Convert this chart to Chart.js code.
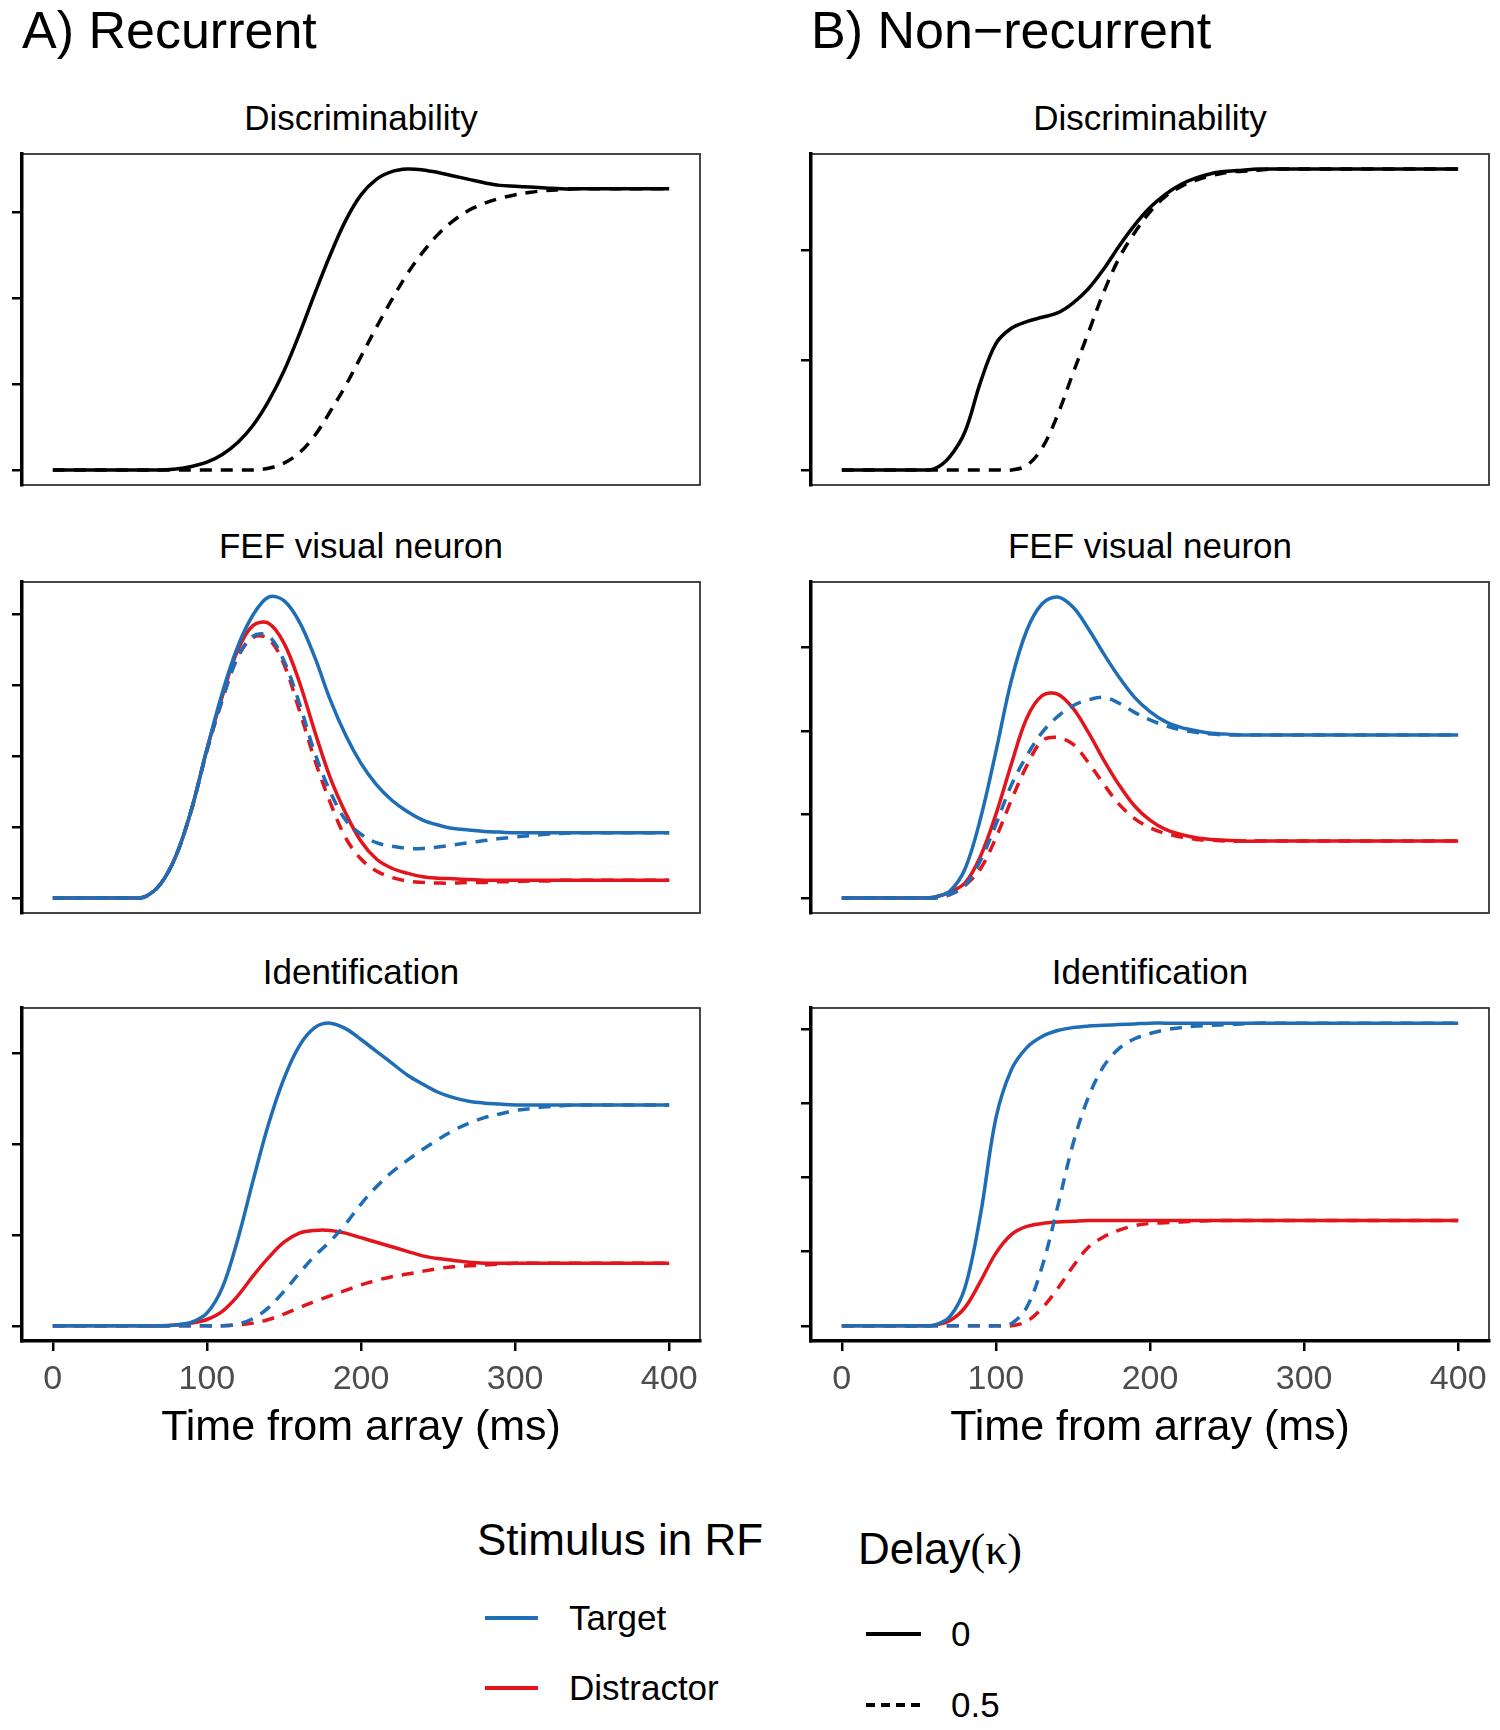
<!DOCTYPE html>
<html>
<head>
<meta charset="utf-8">
<script src="https://cdn.jsdelivr.net/npm/chart.js@4.4.1/dist/chart.umd.min.js"></script>
<style>
body { margin:0; background:#fff; width:1500px; height:1730px; position:relative; overflow:hidden;
       font-family:'Liberation Sans', Arial, sans-serif; }
.t { position:absolute; white-space:nowrap; line-height:1; color:#000; }
canvas { position:absolute; }
.key { position:absolute; height:4px; }
</style>
</head>
<body>

<div class="t" style="left:22px;top:4px;font-size:52px">A) Recurrent</div>
<div class="t" style="left:811px;top:4px;font-size:52px">B) Non&#8722;recurrent</div>

<div class="t" style="left:477px;top:1518px;font-size:44px">Stimulus in RF</div>
<div class="key" style="left:485px;top:1616px;width:53px;background:#1F6EB5"></div>
<div class="t" style="left:569px;top:1600px;font-size:35px">Target</div>
<div class="key" style="left:485px;top:1686px;width:53px;background:#E3141B"></div>
<div class="t" style="left:569px;top:1670px;font-size:35px">Distractor</div>

<div class="t" style="left:858px;top:1527px;font-size:44px">Delay<span style="font-family:'Liberation Serif',serif">(&#954;)</span></div>
<div class="key" style="left:866px;top:1632px;width:55px;background:#000"></div>
<div class="t" style="left:951px;top:1616px;font-size:35px">0</div>
<div class="key" style="left:866px;top:1703px;width:55px;background:repeating-linear-gradient(to right,#000 0 9px,transparent 9px 15px)"></div>
<div class="t" style="left:951px;top:1687px;font-size:35px">0.5</div>

<script>
// time axis (ms)
const TIME = [0,10,20,30,40,50,60,70,80,90,100,110,120,130,140,150,160,170,180,190,200,
              210,220,230,240,250,260,270,280,290,300,310,320,330,340,350,360,370,380,390,400];

// Discriminability, recurrent
const A1_K0 = [0,0,0,0,0,0,0,0,0.01,0.04,0.09,0.18,0.32,0.52,0.8,1.15,1.58,2.05,2.5,2.9,3.2,
               3.38,3.47,3.5,3.49,3.46,3.42,3.38,3.34,3.31,3.3,3.29,3.28,3.27,3.27,3.27,3.27,3.27,3.27,3.27,3.27];
const A1_K5 = [0,0,0,0,0,0,0,0,0,0,0,0,0,0,0.02,0.08,0.2,0.4,0.68,0.98,1.32,
               1.66,1.98,2.28,2.53,2.74,2.9,3.02,3.1,3.16,3.2,3.23,3.25,3.26,3.27,3.27,3.27,3.27,3.27,3.27,3.27];
// Discriminability, non-recurrent
const B1_K0 = [0,0,0,0,0,0,0.01,0.12,0.35,0.8,1.15,1.29,1.35,1.39,1.43,1.52,1.65,1.83,2.04,2.23,2.39,
               2.51,2.6,2.66,2.7,2.72,2.73,2.74,2.74,2.74,2.74,2.74,2.74,2.74,2.74,2.74,2.74,2.74,2.74,2.74,2.74];
const B1_K5 = [0,0,0,0,0,0,0,0,0,0,0,0,0.04,0.2,0.5,0.88,1.25,1.62,1.93,2.16,2.35,
               2.49,2.58,2.64,2.68,2.71,2.72,2.73,2.74,2.74,2.74,2.74,2.74,2.74,2.74,2.74,2.74,2.74,2.74,2.74,2.74];

// FEF visual neuron, recurrent
const A2_TGT_K0 = [0,0,0,0,0,0,0.02,0.2,0.6,1.25,2.1,2.9,3.55,4.0,4.25,4.2,3.9,3.4,2.8,2.3,1.9,
                   1.6,1.38,1.22,1.1,1.03,0.98,0.96,0.94,0.93,0.92,0.92,0.92,0.92,0.92,0.92,0.92,0.92,0.92,0.92,0.92];
const A2_DIS_K0 = [0,0,0,0,0,0,0.02,0.2,0.6,1.25,2.1,2.85,3.5,3.85,3.88,3.6,3.05,2.35,1.7,1.2,0.8,
                   0.55,0.42,0.35,0.3,0.28,0.27,0.26,0.25,0.25,0.25,0.25,0.25,0.25,0.25,0.25,0.25,0.25,0.25,0.25,0.25];
const A2_TGT_K5 = [0,0,0,0,0,0,0.02,0.2,0.6,1.25,2.08,2.8,3.4,3.7,3.7,3.35,2.75,2.05,1.5,1.1,0.9,
                   0.78,0.73,0.7,0.7,0.72,0.75,0.78,0.81,0.84,0.86,0.88,0.9,0.91,0.92,0.92,0.92,0.92,0.92,0.92,0.92];
const A2_DIS_K5 = [0,0,0,0,0,0,0.02,0.2,0.6,1.25,2.08,2.8,3.4,3.68,3.66,3.3,2.65,1.95,1.35,0.85,0.55,
                   0.38,0.29,0.24,0.22,0.21,0.21,0.22,0.22,0.23,0.23,0.24,0.24,0.25,0.25,0.25,0.25,0.25,0.25,0.25,0.25];
// FEF visual neuron, non-recurrent
const B2_TGT_K0 = [0,0,0,0,0,0,0.01,0.08,0.35,0.95,1.75,2.6,3.2,3.52,3.6,3.48,3.22,2.92,2.64,2.4,2.23,
                   2.11,2.04,2.0,1.97,1.96,1.95,1.95,1.95,1.95,1.95,1.95,1.95,1.95,1.95,1.95,1.95,1.95,1.95,1.95,1.95];
const B2_DIS_K0 = [0,0,0,0,0,0,0.01,0.07,0.18,0.5,1.0,1.6,2.15,2.42,2.44,2.27,1.98,1.65,1.35,1.1,0.93,
                   0.82,0.76,0.72,0.7,0.69,0.68,0.68,0.68,0.68,0.68,0.68,0.68,0.68,0.68,0.68,0.68,0.68,0.68,0.68,0.68];
const B2_TGT_K5 = [0,0,0,0,0,0,0,0.04,0.15,0.45,0.88,1.35,1.7,1.98,2.17,2.3,2.37,2.4,2.33,2.22,2.13,
                   2.06,2.01,1.98,1.96,1.95,1.95,1.95,1.95,1.95,1.95,1.95,1.95,1.95,1.95,1.95,1.95,1.95,1.95,1.95,1.95];
const B2_DIS_K5 = [0,0,0,0,0,0,0,0.04,0.15,0.35,0.72,1.17,1.58,1.88,1.92,1.84,1.62,1.36,1.12,0.95,0.84,
                   0.77,0.73,0.7,0.69,0.68,0.68,0.68,0.68,0.68,0.68,0.68,0.68,0.68,0.68,0.68,0.68,0.68,0.68,0.68,0.68];

// Identification, recurrent
const A3_TGT_K0 = [0,0,0,0,0,0,0,0,0.01,0.04,0.14,0.42,0.95,1.6,2.22,2.72,3.08,3.28,3.33,3.27,3.15,
                   3.02,2.89,2.76,2.66,2.57,2.51,2.47,2.45,2.44,2.43,2.43,2.43,2.43,2.43,2.43,2.43,2.43,2.43,2.43,2.43];
const A3_DIS_K0 = [0,0,0,0,0,0,0,0,0.01,0.03,0.07,0.16,0.33,0.55,0.75,0.92,1.02,1.05,1.05,1.02,0.97,
                   0.92,0.87,0.82,0.77,0.74,0.72,0.7,0.69,0.69,0.69,0.69,0.69,0.69,0.69,0.69,0.69,0.69,0.69,0.69,0.69];
const A3_TGT_K5 = [0,0,0,0,0,0,0,0,0,0,0,0,0.02,0.08,0.2,0.38,0.58,0.77,0.93,1.12,1.34,
                   1.53,1.69,1.82,1.94,2.05,2.15,2.23,2.29,2.33,2.37,2.39,2.41,2.42,2.43,2.43,2.43,2.43,2.43,2.43,2.43];
const A3_DIS_K5 = [0,0,0,0,0,0,0,0,0,0,0,0,0.01,0.03,0.07,0.13,0.2,0.27,0.33,0.39,0.45,
                   0.5,0.54,0.57,0.6,0.63,0.65,0.66,0.67,0.68,0.69,0.69,0.69,0.69,0.69,0.69,0.69,0.69,0.69,0.69,0.69];
// Identification, non-recurrent
const B3_TGT_K0 = [0,0,0,0,0,0,0.01,0.12,0.52,1.5,2.8,3.45,3.75,3.9,3.98,4.02,4.04,4.05,4.06,4.07,4.08,
                   4.08,4.08,4.08,4.08,4.08,4.08,4.08,4.08,4.08,4.08,4.08,4.08,4.08,4.08,4.08,4.08,4.08,4.08,4.08,4.08];
const B3_DIS_K0 = [0,0,0,0,0,0,0.01,0.07,0.25,0.6,0.98,1.23,1.34,1.38,1.4,1.41,1.42,1.42,1.42,1.42,1.42,
                   1.42,1.42,1.42,1.42,1.42,1.42,1.42,1.42,1.42,1.42,1.42,1.42,1.42,1.42,1.42,1.42,1.42,1.42,1.42,1.42];
const B3_TGT_K5 = [0,0,0,0,0,0,0,0,0,0,0,0.03,0.25,0.8,1.6,2.45,3.08,3.5,3.74,3.87,3.94,
                   3.99,4.02,4.04,4.05,4.06,4.07,4.08,4.08,4.08,4.08,4.08,4.08,4.08,4.08,4.08,4.08,4.08,4.08,4.08,4.08];
const B3_DIS_K5 = [0,0,0,0,0,0,0,0,0,0,0,0,0.06,0.24,0.5,0.8,1.06,1.2,1.29,1.35,1.38,
                   1.39,1.4,1.41,1.42,1.42,1.42,1.42,1.42,1.42,1.42,1.42,1.42,1.42,1.42,1.42,1.42,1.42,1.42,1.42,1.42];

const BLUE = '#1F6EB5';
const RED = '#E3141B';
const BLACK = '#000000';
const FONT = "'Liberation Sans', Arial, sans-serif";

Chart.defaults.font.family = FONT;

// thin panel frame, drawn under the axes
const framePlugin = {
  id: 'frame',
  beforeDraw(chart) {
    const a = chart.chartArea, c = chart.ctx;
    c.save();
    c.strokeStyle = '#333333';
    c.lineWidth = 1.8;
    c.strokeRect(a.left, a.top, a.right - a.left, a.bottom - a.top);
    c.restore();
  }
};

function line(values, color, dashed) {
  return {
    data: TIME.map((t, i) => ({ x: t, y: values[i] })),
    borderColor: color,
    borderWidth: 3.5,
    borderDash: dashed ? [12, 9] : [],
    pointRadius: 0,
    fill: false,
    tension: 0.35
  };
}

function panel(left, top, width, height, padRight, bottomAxis, title, series) {
  const cv = document.createElement('canvas');
  cv.width = width; cv.height = height;
  cv.style.left = left + 'px'; cv.style.top = top + 'px';
  cv.style.width = width + 'px'; cv.style.height = height + 'px';
  document.body.appendChild(cv);

  let ymax = 0;
  series.forEach(s => s.data.forEach(p => { if (p.y > ymax) ymax = p.y; }));
  const pad = ymax * 0.05;

  const xScale = {
    type: 'linear', min: -20, max: 420, display: bottomAxis, position: 'bottom',
    ticks: { stepSize: 100, includeBounds: false, color: '#4D4D4D', font: { size: 34 }, padding: 8, maxRotation: 0 },
    grid: { drawOnChartArea: false, drawTicks: true, tickLength: 10, color: BLACK, lineWidth: 2.5 },
    border: { display: true, color: BLACK, width: 3.5 },
    title: { display: true, text: 'Time from array (ms)', color: BLACK, font: { size: 43 }, padding: { top: 0, bottom: 0 } }
  };
  if (bottomAxis) xScale.afterFit = s => { s.height = 113; };

  new Chart(cv.getContext('2d'), {
    type: 'line',
    data: { datasets: series },
    plugins: [framePlugin],
    options: {
      responsive: false,
      animation: false,
      events: [],
      layout: { padding: { left: 0, right: padRight, top: 10, bottom: bottomAxis ? 4 : 10 } },
      plugins: { legend: { display: false }, tooltip: { enabled: false } },
      scales: {
        x: xScale,
        y: {
          min: -pad, max: ymax + pad,
          ticks: { display: false, stepSize: 1, includeBounds: false },
          grid: { drawOnChartArea: false, drawTicks: true, tickLength: 10, color: BLACK, lineWidth: 2.5 },
          border: { display: true, color: BLACK, width: 3.5 },
          afterFit: s => { s.width = 22; }
        }
      }
    }
  });

  const t = document.createElement('div');
  t.className = 't';
  t.style.fontSize = '35px';
  t.style.textAlign = 'center';
  t.style.left = (left + 22) + 'px';
  t.style.width = (width - 22 - padRight) + 'px';
  t.style.top = (top + 10 - 54) + 'px';
  t.textContent = title;
  document.body.appendChild(t);
}

// first dataset is drawn on top
// left column: Recurrent
panel(0, 144, 720, 351, 20, false, 'Discriminability',
  [line(A1_K0, BLACK, false), line(A1_K5, BLACK, true)]);
panel(0, 572, 720, 351, 20, false, 'FEF visual neuron',
  [line(A2_TGT_K0, BLUE, false), line(A2_TGT_K5, BLUE, true), line(A2_DIS_K0, RED, false), line(A2_DIS_K5, RED, true)]);
panel(0, 998, 720, 460, 20, true, 'Identification',
  [line(A3_TGT_K0, BLUE, false), line(A3_TGT_K5, BLUE, true), line(A3_DIS_K0, RED, false), line(A3_DIS_K5, RED, true)]);

// right column: Non-recurrent
panel(789, 144, 711, 351, 11, false, 'Discriminability',
  [line(B1_K0, BLACK, false), line(B1_K5, BLACK, true)]);
panel(789, 572, 711, 351, 11, false, 'FEF visual neuron',
  [line(B2_TGT_K0, BLUE, false), line(B2_TGT_K5, BLUE, true), line(B2_DIS_K0, RED, false), line(B2_DIS_K5, RED, true)]);
panel(789, 998, 711, 460, 11, true, 'Identification',
  [line(B3_TGT_K0, BLUE, false), line(B3_TGT_K5, BLUE, true), line(B3_DIS_K0, RED, false), line(B3_DIS_K5, RED, true)]);
</script>
</body>
</html>
